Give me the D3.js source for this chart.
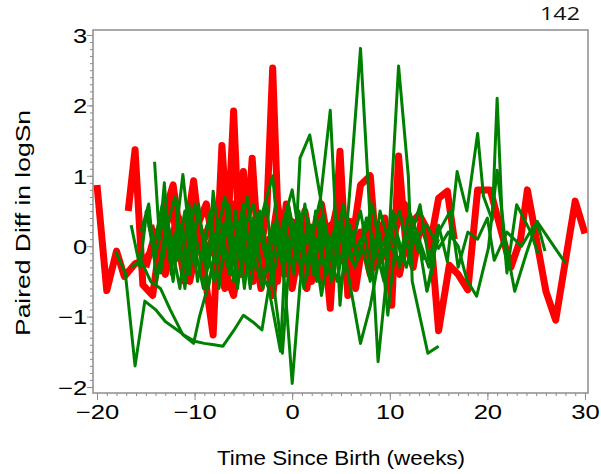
<!DOCTYPE html>
<html>
<head>
<meta charset="utf-8">
<script src="https://cdn.jsdelivr.net/npm/d3@7"></script>
<style>
  body { margin: 0; background: #fff; }
  svg { display: block; }
</style>
</head>
<body>
<svg id="chart"></svg>
<script>
let width = 601;
let height = 474;

// tick labels
let xTicks = [-20, -10, 0, 10, 20, 30];
let yTicks = [-2, -1, 0, 1, 2, 3];

// red subjects (thick lines): [week, paired diff]
let red1 = [[-20,0.87],[-19,-0.63],[-18,-0.07],[-17.2,-0.43],[-16.1,-0.25],[-15.2,-0.2],[-14.2,-0.05],[-13.1,0.45],[-12.2,0.87],[-11.2,-0.1],[-10.1,0.93],[-9.1,-0.27],[-8.1,-1.26],[-7.2,1.43],[-6.6,0.2],[-6,1.92],[-5.5,0.3],[-5,1.06],[-4.6,0.2],[-4.1,1.25],[-3.4,-0.2],[-2.6,0.5],[-2,2.53],[-1.4,0.2],[-0.8,-0.4],[0,0.35],[1,-0.4],[2,0.25],[3,-0.5],[4,0.3],[5,-0.2],[6,0.4]];
let red2 = [[-16.8,0.5],[-16.1,1.37],[-15.3,-0.55],[-14.3,-0.7],[-13.5,0.1],[-12.6,-0.3],[-11.6,0.4],[-10.7,-0.45],[-9.7,0.3],[-8.8,0.6],[-7.8,-0.2],[-6.9,-0.6],[-6.1,0.6],[-5.2,-0.4],[-4.3,0.3],[-3.2,-0.6],[-2.4,0.1],[-1.5,-0.5],[-0.6,0.6],[0.4,-0.3],[1.3,0.5],[2.3,-0.3],[3.1,0.3],[3.9,-0.88],[4.9,1.35],[5.7,-0.7],[6.3,0.2],[7,0.87],[8,1.0],[8.7,-0.2],[9.5,0.4],[10.2,-0.84],[10.9,1.28],[11.6,0.1],[12.4,-0.3],[13.2,0.35],[14.1,0.0],[15,0.68],[15.9,0.78],[16.6,0.1]];
let red3 = [[-15,-0.3],[-14,0.2],[-13,-0.4],[-12,0.3],[-11,-0.5],[-10,0.4],[-9,0.1],[-8,0.5],[-7,-0.3],[-6,-0.7],[-5,0.2],[-4,-0.5],[-3,0.1],[-2,-0.7],[-1,0.4],[0,-0.6],[1,0.2],[2,-0.5],[3,0.6],[4,-0.2],[5,0.3],[6,-0.5],[7,0.2],[8,-0.4],[9,0.3],[10,0.1],[11,-0.4],[12,0.3],[13,0.45],[14.2,0.15],[15,-1.2],[16.1,-0.27],[17,-0.4],[18,-0.62],[19,0.8],[20.3,0.8],[22.4,-0.3],[23.4,0.1],[24.1,0.8],[26,-0.64],[27,-1.05],[29,0.64],[30,0.18]];
let red4 = [[-14.5,0.3],[-13.5,-0.2],[-12.5,0.6],[-11.5,0.0],[-10.5,-0.5],[-9.5,0.2],[-8.5,-0.1],[-7.5,0.6],[-6.5,-0.4],[-5.5,0.5],[-4.5,-0.2],[-3.5,0.4],[-2.5,-0.3],[-1.5,0.6],[-0.5,-0.3],[0.5,0.2],[1.5,-0.6],[2.5,0.4],[3.5,-0.1],[4.5,0.5],[5.5,-0.3],[6.5,-0.6],[7.5,0.3],[8.5,-0.3],[9.5,-0.1],[10.5,0.2],[11.5,0.6],[12.5,-0.1]];

// green subjects (thin lines)
let green1 = [[-18.1,-0.07],[-17.1,-0.38],[-16.1,-1.7],[-15.1,-0.78],[-14,-0.9],[-13,-1.07],[-12,-1.17],[-11,-1.27],[-10,-1.35],[-9,-1.38],[-8,-1.4],[-7.1,-1.42],[-6,-1.2],[-5,-0.98],[-4,-1.08],[-3.1,-1.19],[-2.3,-0.5],[-1.5,0.3],[-0.5,-0.2],[0.5,0.4],[1.5,-0.3],[2.5,0.1],[3.5,-0.4],[4.5,0.3],[5.5,-0.1]];
let green2 = [[-16.5,-0.3],[-15.5,-0.2],[-14.5,-0.5],[-13.5,-0.6],[-12.5,-0.9],[-11.2,-1.26],[-10.1,-1.38],[-9.5,-1.0],[-8.5,-0.5],[-7.5,0.2],[-6.5,-0.3],[-5.5,0.3],[-4.5,-0.4],[-3.5,0.2]];
let green3 = [[-14.1,1.2],[-13.6,0.1],[-13.1,0.9],[-12.4,-0.4],[-11.2,1.02],[-10.4,0.0],[-9.6,0.5],[-8.6,-0.3],[-8.1,0.78],[-7.3,-0.1],[-6.5,0.6],[-5.6,-0.6],[-4.8,0.3],[-4,-0.3],[-3,0.5],[-2,1.0],[-1.2,-0.2],[-0.6,0.2],[0.2,-0.4],[0.8,1.25],[1.8,1.58],[2.9,0.68],[3.9,1.93],[4.9,-0.84],[5.8,0.6],[7,2.81],[8.8,-1.64],[9.7,-0.4],[10.9,2.56],[11.9,1.0],[12.3,-0.5],[13.9,-1.52],[15,-1.42]];
let green4 = [[-16.5,0.3],[-15.6,-0.3],[-14.9,0.5],[-14.1,-0.2],[-13.2,0.4],[-12.2,-0.5],[-11.5,0.3],[-10.5,-0.4],[-9.6,0.6],[-8.6,-0.6],[-7.6,0.2],[-6.6,-0.3],[-5.8,0.5],[-4.9,-0.6],[-4,0.4],[-3.1,-0.4],[-2.4,-0.6],[-1.2,-1.49],[-0.5,0.5],[0.4,-0.2],[1.3,0.6],[2.2,-0.4],[3,0.4],[4,-0.5],[5,0.2],[6,-0.6],[7,-1.38],[8,-0.85],[9,-0.1],[10,0.3],[11,-0.3],[12,0.2]];
let green5 = [[-15.5,0.2],[-14.7,0.6],[-13.9,-0.5],[-13,0.2],[-12,0.7],[-11,-0.6],[-10.2,0.3],[-9.3,-0.2],[-8.4,0.5],[-7.5,-0.6],[-6.7,0.4],[-5.9,0.0],[-5,0.6],[-4.2,-0.3],[-3.3,0.5],[-2.5,-0.2],[-1.6,0.4],[-0.7,-0.64],[0,-1.95],[0.8,-0.55],[1.6,0.4],[2.5,-0.5],[3.4,0.3],[4.3,-0.3],[5.2,0.6],[6.1,0.0],[7,0.5],[8,-0.3],[9,0.2],[9.8,-0.98],[10.7,0.2],[11.7,-0.3],[12.6,0.2],[13.5,-0.2]];
let green6 = [[-15,0.5],[-14.2,0.0],[-13.3,0.6],[-12.5,0.1],[-11.5,-0.6],[-10.6,0.6],[-9.7,-0.5],[-8.7,0.3],[-7.8,0.1],[-6.9,0.7],[-6,-0.5],[-5.1,0.3],[-4.3,-0.6],[-3.5,0.2],[-2.6,0.6],[-1.9,-0.55],[-1,-1.52],[-0.2,0.0],[0.7,0.5],[1.6,-0.4],[2.4,0.5],[3.3,-0.3],[4.2,0.2],[5,-0.6],[5.9,0.3],[6.8,-0.2],[7.6,0.4],[8.5,0.0],[9.4,-0.5],[10.3,0.5],[11.2,-0.2],[12.1,0.3],[13,-0.1]];
let green7 = [[-13.5,-0.4],[-12.7,0.3],[-11.8,-0.2],[-11,0.5],[-10,0.0],[-9.1,-0.6],[-8.2,0.0],[-7.4,0.4],[-6.4,-0.4],[-5.5,0.1],[-4.6,0.7],[-3.8,-0.2],[-3,-0.6],[-2,0.3],[-1.3,-0.1],[-0.4,0.6],[0.5,0.0],[1.2,-0.6],[2.1,0.2],[2.9,0.68],[3.7,0.0],[4.6,-0.5],[5.5,0.2],[6.4,-0.3],[7.3,0.1],[8.2,0.6],[9.2,-0.2],[10,0.2],[11,0.5],[12,-0.1],[12.8,0.2],[13.8,-0.64],[14.6,-0.2]];
let green8 = [[-12,0.2],[-11,-0.3],[-10,0.6],[-9,0.1],[-8,-0.5],[-7,0.3],[-6,-0.1],[-5,0.2],[-4,0.6],[-3,0.0],[-2,-0.5],[-1,0.3],[0,0.8],[1,-0.1],[2,0.3],[3,-0.7],[4,0.1],[5,0.4],[6,-0.2],[7,0.1],[8,-0.5],[9,0.5],[10,0.0],[11,-0.2],[12,0.5],[13,0.1],[14,-0.3],[15,0.1]];
let green9 = [[12.3,0.2],[13.1,0.59],[14,-0.2],[15,0.3],[15.9,-0.22],[16.9,1.06],[17.9,0.5],[19,1.6],[19.6,0.71],[20.5,0.37],[21,2.1],[21.5,0.44],[22,-0.38],[23,0.59],[24.4,0.21],[25.1,0.35],[25.9,-0.07]];
let green10 = [[12,0.0],[13.8,0.3],[15,-0.03],[16,0.2],[17,0.0],[17.9,-0.48],[18.9,-0.71],[20.1,-0.03],[21,1.08],[21.8,0.11],[22.8,-0.64],[24,-0.1],[25.1,0.35],[26.8,0.0],[28,-0.24]];
let green11 = [[13.8,-0.64],[15,0.2],[16.2,0.5],[17,-0.3],[18,0.2],[19,0.1],[20,0.4],[20.7,-0.2],[22,0.2],[23.5,0.0],[24.4,0.21],[25.2,-0.1]];

let redSeries = [red1, red2, red3, red4];
let greenSeries = [green1, green2, green3, green4, green5, green6, green7, green8, green9, green10, green11];

let plotLeft = 93, plotRight = 588, plotTop = 30, plotBottom = 393;
let axisColor = '#8c8c8c';
let font = '"Liberation Sans", Arial, sans-serif';

let canvas = d3.select('#chart')
    .attr('width', width)
    .attr('height', height);

let xScale = d3.scaleLinear()
    .domain([-20.41, 30.31])
    .range([plotLeft, plotRight]);

let yScale = d3.scaleLinear()
    .domain([-2.085, 3.071])
    .range([plotBottom, plotTop]);

let line = d3.line()
    .x(d => xScale(d[0]))
    .y(d => yScale(d[1]));

let fmt = d => (d < 0 ? '\u2212' + Math.abs(d) : '' + d);

let drawLines = () => {
    canvas.append('g').selectAll('path')
        .data(redSeries)
        .enter()
        .append('path')
        .attr('d', line)
        .attr('fill', 'none')
        .attr('stroke', '#ff0000')
        .attr('stroke-width', 7)
        .attr('stroke-linejoin', 'round');

    canvas.append('g').selectAll('path')
        .data(greenSeries)
        .enter()
        .append('path')
        .attr('d', line)
        .attr('fill', 'none')
        .attr('stroke', '#008000')
        .attr('stroke-width', 3)
        .attr('stroke-linejoin', 'round');
};

let drawAxes = () => {
    // minor ticks
    canvas.append('g')
        .attr('transform', `translate(0, ${plotBottom})`)
        .call(d3.axisBottom(xScale).tickValues(d3.range(-20, 31)).tickSize(3).tickFormat(''))
        .call(g => g.select('.domain').remove());
    canvas.append('g')
        .attr('transform', `translate(${plotLeft}, 0)`)
        .call(d3.axisLeft(yScale).tickValues(d3.range(-20, 31).map(v => v / 10)).tickSize(3).tickFormat(''))
        .call(g => g.select('.domain').remove());

    let xAxis = canvas.append('g')
        .attr('id', 'x-axis')
        .attr('transform', `translate(0, ${plotBottom})`)
        .call(d3.axisBottom(xScale).tickValues(xTicks).tickSize(7).tickFormat(fmt))
        .call(g => g.select('.domain').remove());
    xAxis.selectAll('text')
        .attr('y', 26).attr('dy', 0)
        .attr('transform', 'scale(1.28,1)');

    let yAxis = canvas.append('g')
        .attr('id', 'y-axis')
        .attr('transform', `translate(${plotLeft}, 0)`)
        .call(d3.axisLeft(yScale).tickValues(yTicks).tickSize(6).tickFormat(fmt))
        .call(g => g.select('.domain').remove());
    yAxis.selectAll('text')
        .attr('x', -4.5).attr('dy', '0.36em')
        .attr('transform', 'scale(1.28,1)');

    canvas.selectAll('.tick line').attr('stroke', axisColor);
    canvas.selectAll('.tick text')
        .attr('fill', '#000')
        .style('font-family', font)
        .style('font-size', '20px');

    canvas.append('rect')
        .attr('x', plotLeft).attr('y', plotTop)
        .attr('width', plotRight - plotLeft).attr('height', plotBottom - plotTop)
        .attr('fill', 'none')
        .attr('stroke', axisColor)
        .attr('stroke-width', 1.5);
};

let drawTitles = () => {
    canvas.append('text')
        .attr('x', 217).attr('y', 465)
        .attr('textLength', 248).attr('lengthAdjust', 'spacingAndGlyphs')
        .style('font-family', font).style('font-size', '20px')
        .text('Time Since Birth (weeks)');

    canvas.append('text')
        .attr('transform', 'translate(30, 336) rotate(-90)')
        .attr('textLength', 226).attr('lengthAdjust', 'spacingAndGlyphs')
        .style('font-family', font).style('font-size', '20px')
        .text('Paired Diff in logSn');

    // page number in the top right corner
    canvas.append('text')
        .attr('x', 540).attr('y', 20)
        .attr('textLength', 40).attr('lengthAdjust', 'spacingAndGlyphs')
        .style('font-family', '"Open Sans", sans-serif').style('font-size', '18px')
        .attr('fill', '#111')
        .text('142');
};

drawLines();
drawAxes();
drawTitles();
</script>
</body>
</html>
